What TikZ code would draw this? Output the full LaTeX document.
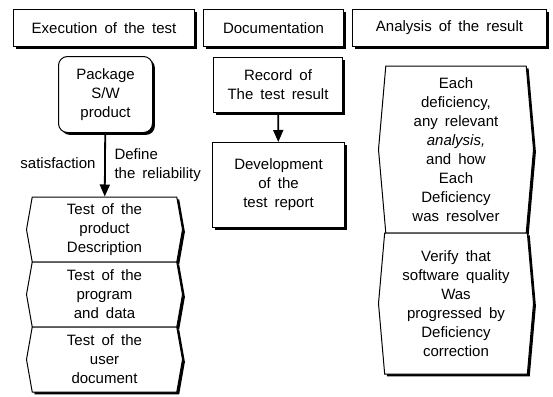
\documentclass[tikz,border=0pt]{standalone}
\usepackage{fontspec}
\setmainfont{Liberation Sans}[WordSpace=1.7]
\usetikzlibrary{arrows.meta}
\usetikzlibrary{shapes.symbols}
\usetikzlibrary{shadows}
\tikzset{
	every path/.style={line width=1pt},
	every node/.style={font=\fontsize{15}{19}\selectfont},
	align=center,
	shadowed/.style={
		drop shadow={shadow xshift=2.4pt,shadow yshift=-2.4pt,fill=black,opacity=1},
	},
	head/.style={
		draw,
		rectangle,
		fill=white,
		shadowed,
		minimum height=37pt,
	},
	pack/.style={
		draw,
		rectangle,
		rounded corners=9pt,
		fill=white,
		shadowed,
	},
	docbox/.style={
		draw,
		rectangle,
		fill=white,
		shadowed,
	},
	testbox/.style={
		draw,
		signal,
		signal to=west and east,
		signal pointer angle=160,
		fill=white,
		shadowed,
		inner sep=0pt,
		minimum width=156pt,
		minimum height=65pt,
	},
	resbox/.style={
		draw,
		signal,
		signal to=west and east,
		signal pointer angle=170,
		fill=white,
		shadowed,
		inner sep=0pt,
		minimum width=155pt,
	},
	flow/.style={
		line width=1.8pt,
		-{Triangle[width=10pt,length=12pt]}
	},
	lbl/.style={inner sep=0pt},
}

\begin{document}
\begin{tikzpicture}[x=1pt,y=-1pt]
	\useasboundingbox (0,0) rectangle (553,396);

	\node[head, minimum width=181pt]	(exec) at (104,28) {Execution of the test};
	\node[head, minimum width=140pt]	(docu) at (273.5,28) {Documentation};
	\node[head, minimum width=194pt]	(anal) at (449.5,28) {Analysis of the result};

	\node[pack, minimum width=94pt, minimum height=76pt]	(pkg) at (105.5,94.5) {Package\\S/W\\product};
	\node[testbox]	(tprod) at (104.5,229.5) {Test of the\\product\\Description};
	\node[testbox]	(tprog) at (104.5,294.5) {Test of the\\program\\and data};
	\node[testbox]	(tuser) at (104.5,359.5) {Test of the\\user\\document};

	\node[lbl, anchor=east]	(satis) at (96,163) {satisfaction};
	\node[lbl, anchor=west, align=left]	(relia) at (114,165) {Define\\the reliability};

	\node[docbox, minimum width=129pt, minimum height=55pt]	(record) at (278,85) {Record of\\The test result};
	\node[docbox, minimum width=132pt, minimum height=85pt]	(report) at (278.5,185) {Development\\of the\\test report};

	\node[resbox, minimum height=167pt]	(defic) at (456,149.5) {Each\\deficiency,\\any relevant\\\textit{analysis,}\\and how\\Each\\Deficiency\\was resolver};
	\node[resbox, minimum height=141pt]	(verify) at (456,303.5) {Verify that\\software quality\\Was\\progressed by\\Deficiency\\correction};

	\draw[flow]	(pkg) -- (tprod);
	\draw[flow]	(record) -- (report);

\end{tikzpicture}
\end{document}
